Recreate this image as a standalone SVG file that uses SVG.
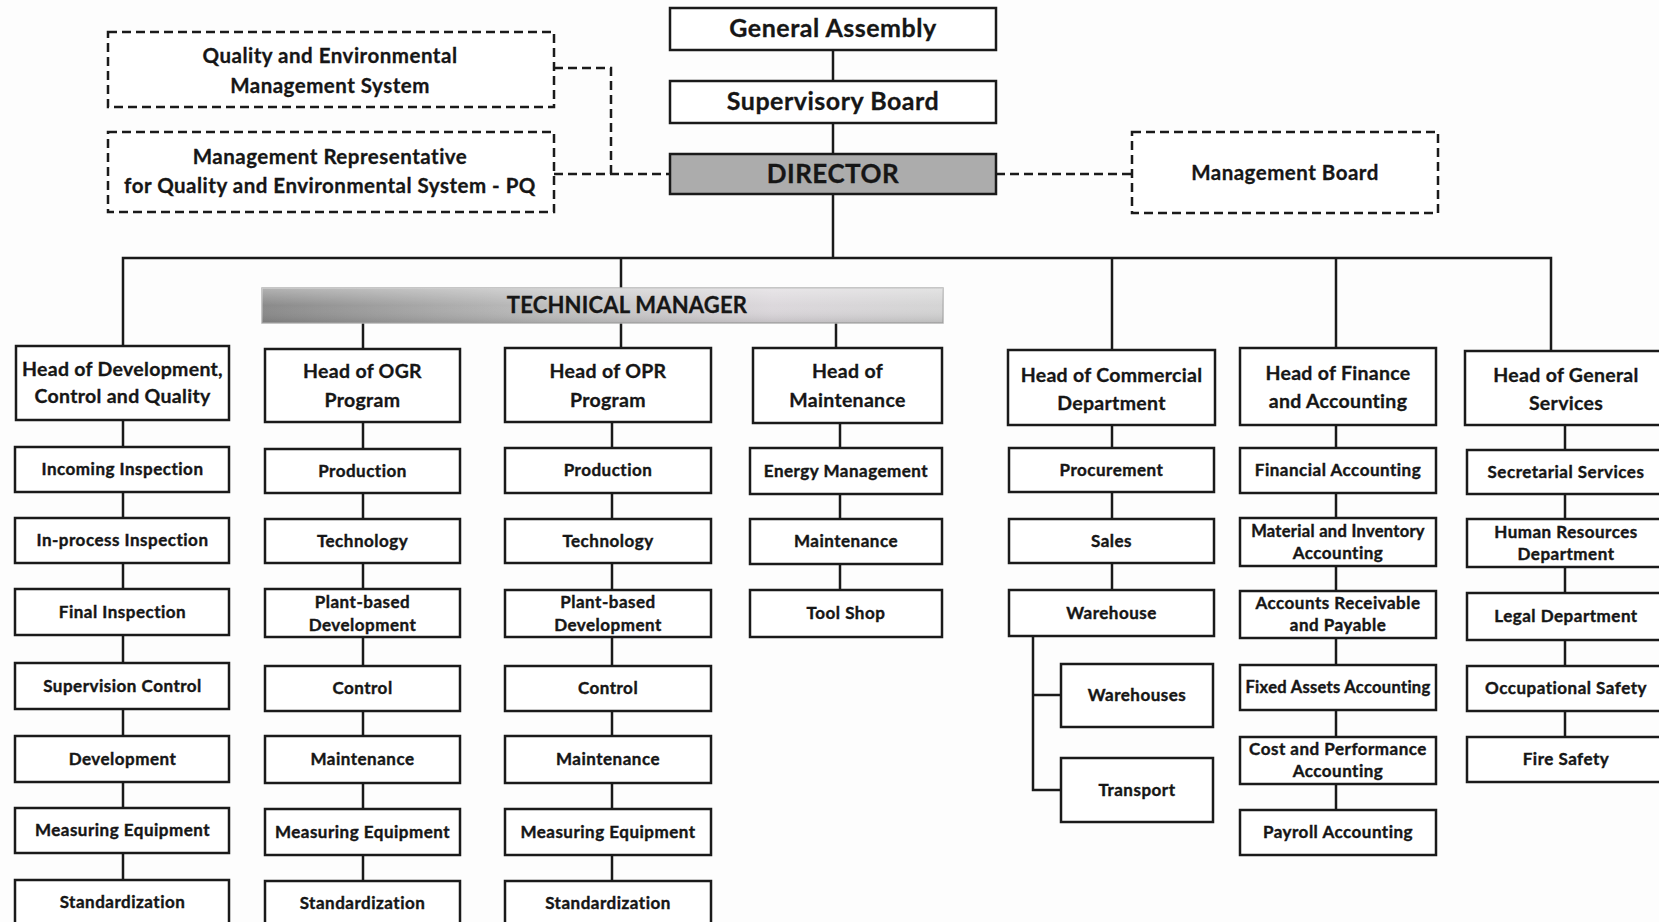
<svg xmlns="http://www.w3.org/2000/svg" width="1659" height="922" viewBox="0 0 1659 922">
<defs>
<style>
.box{fill:#fff;stroke:#1a1a1a;stroke-width:2.5}
.dbox{fill:#fff;stroke:#1a1a1a;stroke-width:2.5;stroke-dasharray:9 5}
.ln{stroke:#1a1a1a;stroke-width:2.5;fill:none}
.dl{stroke:#1a1a1a;stroke-width:2.5;fill:none;stroke-dasharray:9 5}
text{font-family:Lato,'Liberation Sans',sans-serif;font-weight:700;fill:#161616;text-anchor:middle;stroke:#161616;stroke-width:0.3}
.top{font-size:25px;letter-spacing:0.5px}
.dt{font-size:20.5px;letter-spacing:0.5px}
.hd{font-size:19.5px;letter-spacing:0.3px}
.sb{font-size:17px;letter-spacing:0.5px;stroke-width:0.4}
.tm{font-size:22px;letter-spacing:0.2px}
</style>
<linearGradient id="tmg" x1="0" y1="0" x2="1" y2="0">
<stop offset="0" stop-color="#8a8a8a"/>
<stop offset="0.45" stop-color="#c2c2c2"/>
<stop offset="0.75" stop-color="#dcd8dc"/>
<stop offset="1" stop-color="#d4d4d4"/>
</linearGradient>
<linearGradient id="tmv" x1="0" y1="0" x2="0" y2="1">
<stop offset="0" stop-color="#fff" stop-opacity="0.35"/>
<stop offset="0.5" stop-color="#fff" stop-opacity="0"/>
<stop offset="1" stop-color="#000" stop-opacity="0.12"/>
</linearGradient>
</defs>
<rect x="0" y="0" width="1659" height="922" fill="#fdfdfd"/>

<g id="connectors">
<path class="ln" d="M833 50V258"/>
<path class="ln" d="M123 345V258H1551V351"/>
<path class="ln" d="M621 258V288"/>
<path class="ln" d="M1112 258V350"/>
<path class="ln" d="M1336 258V348"/>
<path class="ln" d="M363 323V349"/>
<path class="ln" d="M621 323V348"/>
<path class="ln" d="M836 323V348"/>
<path class="ln" d="M123 420V880"/>
<path class="ln" d="M363 422V881"/>
<path class="ln" d="M612 422V881"/>
<path class="ln" d="M840 423V590"/>
<path class="ln" d="M1112 425V590"/>
<path class="ln" d="M1033 636V790H1061M1033 695H1061"/>
<path class="ln" d="M1336 425V810"/>
<path class="ln" d="M1565 425V737"/>
<path class="dl" d="M554 68H611V174"/>
<path class="dl" d="M554 174H670"/>
<path class="dl" d="M996 174H1132"/>
</g>

<g id="general-assembly"><rect class="box" x="670" y="8" width="326" height="42"/><text class="top" x="833" y="37">General Assembly</text></g>
<g id="supervisory-board"><rect class="box" x="670" y="81" width="326" height="42"/><text class="top" x="833" y="110">Supervisory Board</text></g>
<g id="director"><rect class="box" x="670" y="154" width="326" height="40" style="fill:#acacac"/><text class="top" x="833" y="183" style="font-size:26px">DIRECTOR</text></g>
<g id="qems"><rect class="dbox" x="108" y="32" width="446" height="75"/><text class="dt" x="330" y="63">Quality and Environmental</text><text class="dt" x="330" y="93">Management System</text></g>
<g id="mgmt-rep"><rect class="dbox" x="108" y="132" width="446" height="80"/><text class="dt" x="330" y="164">Management Representative</text><text class="dt" x="330" y="193">for Quality and Environmental System - PQ</text></g>
<g id="mgmt-board"><rect class="dbox" x="1132" y="132" width="306" height="81"/><text class="dt" x="1285" y="180">Management Board</text></g>

<g id="technical-manager"><rect x="262" y="288" width="681" height="35" fill="url(#tmg)" stroke="#b4b4b4" stroke-width="1.5"/><rect x="262" y="288" width="681" height="35" fill="url(#tmv)"/><text class="tm" x="627" y="313">TECHNICAL MANAGER</text></g>

<g id="head-dev"><rect class="box" x="16" y="346" width="213" height="74"/><text class="hd" x="122.5" y="376">Head of Development,</text><text class="hd" x="122.5" y="403">Control and Quality</text></g>
<g id="incoming"><rect class="box" x="15" y="447" width="214" height="45"/><text class="sb" x="122.5" y="475">Incoming Inspection</text></g>
<g id="inprocess"><rect class="box" x="15" y="518" width="214" height="45"/><text class="sb" x="122.5" y="546">In-process Inspection</text></g>
<g id="final"><rect class="box" x="15" y="589" width="214" height="46"/><text class="sb" x="122.5" y="618">Final Inspection</text></g>
<g id="supervision"><rect class="box" x="15" y="663" width="214" height="46"/><text class="sb" x="122.5" y="692">Supervision Control</text></g>
<g id="development"><rect class="box" x="15" y="736" width="214" height="46"/><text class="sb" x="122.5" y="765">Development</text></g>
<g id="measuring1"><rect class="box" x="15" y="808" width="214" height="45"/><text class="sb" x="122.5" y="836">Measuring Equipment</text></g>
<g id="std1"><rect class="box" x="15" y="880" width="214" height="60"/><text class="sb" x="122.5" y="908">Standardization</text></g>

<g id="head-ogr"><rect class="box" x="265" y="349" width="195" height="73"/><text class="hd" x="362.5" y="378">Head of OGR</text><text class="hd" x="362.5" y="407">Program</text></g>
<g id="ogr-production"><rect class="box" x="265" y="449" width="195" height="44"/><text class="sb" x="362.5" y="477">Production</text></g>
<g id="ogr-technology"><rect class="box" x="265" y="519" width="195" height="44"/><text class="sb" x="362.5" y="547">Technology</text></g>
<g id="ogr-plant"><rect class="box" x="265" y="589" width="195" height="48"/><text class="sb" x="362.5" y="608">Plant-based</text><text class="sb" x="362.5" y="631">Development</text></g>
<g id="ogr-control"><rect class="box" x="265" y="666" width="195" height="45"/><text class="sb" x="362.5" y="694">Control</text></g>
<g id="ogr-maintenance"><rect class="box" x="265" y="736" width="195" height="47"/><text class="sb" x="362.5" y="765">Maintenance</text></g>
<g id="ogr-measuring"><rect class="box" x="265" y="809" width="195" height="46"/><text class="sb" x="362.5" y="838">Measuring Equipment</text></g>
<g id="ogr-std"><rect class="box" x="265" y="881" width="195" height="60"/><text class="sb" x="362.5" y="909">Standardization</text></g>

<g id="head-opr"><rect class="box" x="505" y="348" width="206" height="74"/><text class="hd" x="608" y="378">Head of OPR</text><text class="hd" x="608" y="407">Program</text></g>
<g id="opr-production"><rect class="box" x="505" y="448" width="206" height="45"/><text class="sb" x="608" y="476">Production</text></g>
<g id="opr-technology"><rect class="box" x="505" y="519" width="206" height="44"/><text class="sb" x="608" y="547">Technology</text></g>
<g id="opr-plant"><rect class="box" x="505" y="590" width="206" height="47"/><text class="sb" x="608" y="608">Plant-based</text><text class="sb" x="608" y="631">Development</text></g>
<g id="opr-control"><rect class="box" x="505" y="666" width="206" height="45"/><text class="sb" x="608" y="694">Control</text></g>
<g id="opr-maintenance"><rect class="box" x="505" y="736" width="206" height="47"/><text class="sb" x="608" y="765">Maintenance</text></g>
<g id="opr-measuring"><rect class="box" x="505" y="809" width="206" height="46"/><text class="sb" x="608" y="838">Measuring Equipment</text></g>
<g id="opr-std"><rect class="box" x="505" y="881" width="206" height="60"/><text class="sb" x="608" y="909">Standardization</text></g>

<g id="head-maint"><rect class="box" x="753" y="348" width="189" height="75"/><text class="hd" x="847.5" y="378">Head of</text><text class="hd" x="847.5" y="407">Maintenance</text></g>
<g id="energy"><rect class="box" x="750" y="448" width="192" height="46"/><text class="sb" x="846" y="477">Energy Management</text></g>
<g id="maint"><rect class="box" x="750" y="519" width="192" height="45"/><text class="sb" x="846" y="547">Maintenance</text></g>
<g id="toolshop"><rect class="box" x="750" y="590" width="192" height="47"/><text class="sb" x="846" y="619">Tool Shop</text></g>

<g id="head-commercial"><rect class="box" x="1008" y="350" width="207" height="75"/><text class="hd" x="1111.5" y="382">Head of Commercial</text><text class="hd" x="1111.5" y="410">Department</text></g>
<g id="procurement"><rect class="box" x="1009" y="448" width="205" height="44"/><text class="sb" x="1111.5" y="476">Procurement</text></g>
<g id="sales"><rect class="box" x="1009" y="519" width="205" height="44"/><text class="sb" x="1111.5" y="547">Sales</text></g>
<g id="warehouse"><rect class="box" x="1009" y="590" width="205" height="46"/><text class="sb" x="1111.5" y="619">Warehouse</text></g>
<g id="warehouses"><rect class="box" x="1061" y="664" width="152" height="63"/><text class="sb" x="1137" y="701">Warehouses</text></g>
<g id="transport"><rect class="box" x="1061" y="758" width="152" height="64"/><text class="sb" x="1137" y="796">Transport</text></g>

<g id="head-finance"><rect class="box" x="1240" y="348" width="196" height="77"/><text class="hd" x="1338" y="380">Head of Finance</text><text class="hd" x="1338" y="408">and Accounting</text></g>
<g id="fin-acc"><rect class="box" x="1240" y="448" width="196" height="45"/><text class="sb" x="1338" y="476">Financial Accounting</text></g>
<g id="material"><rect class="box" x="1240" y="518" width="196" height="48"/><text class="sb" x="1338" y="537" style="font-size:16.5px;letter-spacing:0.3px">Material and Inventory</text><text class="sb" x="1338" y="559">Accounting</text></g>
<g id="receivable"><rect class="box" x="1240" y="591" width="196" height="47"/><text class="sb" x="1338" y="609">Accounts Receivable</text><text class="sb" x="1338" y="631">and Payable</text></g>
<g id="fixed"><rect class="box" x="1240" y="665" width="196" height="45"/><text class="sb" x="1338" y="693" style="font-size:16.5px;letter-spacing:0.3px">Fixed Assets Accounting</text></g>
<g id="cost"><rect class="box" x="1240" y="737" width="196" height="47"/><text class="sb" x="1338" y="755">Cost and Performance</text><text class="sb" x="1338" y="777">Accounting</text></g>
<g id="payroll"><rect class="box" x="1240" y="810" width="196" height="45"/><text class="sb" x="1338" y="838">Payroll Accounting</text></g>

<g id="head-general"><rect class="box" x="1465" y="351" width="205" height="74"/><text class="hd" x="1566" y="382">Head of General</text><text class="hd" x="1566" y="410">Services</text></g>
<g id="secretarial"><rect class="box" x="1467" y="450" width="203" height="44"/><text class="sb" x="1566" y="478">Secretarial Services</text></g>
<g id="hr"><rect class="box" x="1467" y="519" width="203" height="48"/><text class="sb" x="1566" y="538">Human Resources</text><text class="sb" x="1566" y="560">Department</text></g>
<g id="legal"><rect class="box" x="1467" y="593" width="203" height="47"/><text class="sb" x="1566" y="622">Legal Department</text></g>
<g id="occupational"><rect class="box" x="1467" y="666" width="203" height="45"/><text class="sb" x="1566" y="694">Occupational Safety</text></g>
<g id="fire"><rect class="box" x="1467" y="737" width="203" height="45"/><text class="sb" x="1566" y="765">Fire Safety</text></g>
</svg>
